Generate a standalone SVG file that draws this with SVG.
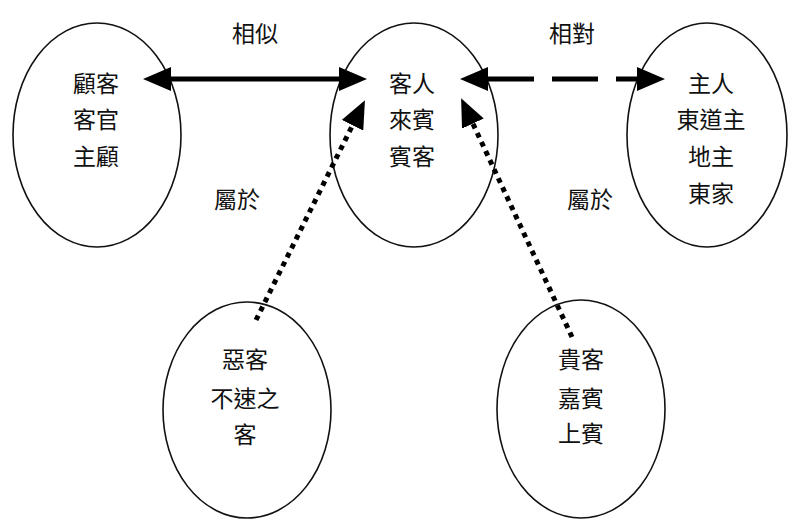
<svg xmlns="http://www.w3.org/2000/svg" width="790" height="519" viewBox="0 0 790 519">
  <style>
    .node ellipse { fill: #ffffff; stroke: #111111; stroke-width: 1.6; }
    text { font-family: "Noto Sans CJK TC", "Noto Sans CJK SC", sans-serif; font-size: 23px; fill: #111111; text-anchor: middle; dominant-baseline: central; }
    .conn line { stroke: #000000; stroke-width: 5; fill: none; }
    .dashed { stroke-dasharray: 46 18; }
    .dotted { stroke-dasharray: 5 5; stroke-width: 5; }
  </style>
  <defs>
    <marker id="head" viewBox="0 0 28 24" refX="0" refY="12" markerWidth="28" markerHeight="24" markerUnits="userSpaceOnUse" orient="auto-start-reverse">
      <path d="M0,0 L28,12 L0,24 Z" fill="#000000"/>
    </marker>
  </defs>
  <rect x="0" y="0" width="790" height="519" fill="#ffffff"/>

  <g id="guest" class="node">
    <ellipse cx="414" cy="135" rx="84" ry="112"/>
    <text x="412" y="82">客人</text>
    <text x="412" y="118">來賓</text>
    <text x="412" y="155">賓客</text>
  </g>
  <g id="customer" class="node">
    <ellipse cx="97" cy="135" rx="84" ry="112"/>
    <text x="96" y="82">顧客</text>
    <text x="96" y="118">客官</text>
    <text x="96" y="155">主顧</text>
  </g>
  <g id="host" class="node">
    <ellipse cx="707" cy="135" rx="80" ry="112"/>
    <text x="711" y="82">主人</text>
    <text x="711" y="118">東道主</text>
    <text x="711" y="155">地主</text>
    <text x="711" y="192">東家</text>
  </g>
  <g id="badguest" class="node">
    <ellipse cx="247" cy="410" rx="84" ry="108"/>
    <text x="245" y="358">惡客</text>
    <text x="245" y="397">不速之</text>
    <text x="245" y="433">客</text>
  </g>
  <g id="vip" class="node">
    <ellipse cx="581" cy="409" rx="84" ry="109"/>
    <text x="581" y="358">貴客</text>
    <text x="581" y="397">嘉賓</text>
    <text x="581" y="432">上賓</text>
  </g>

  <g id="labels">
    <text x="255" y="32">相似</text>
    <text x="572" y="32">相對</text>
    <text x="237" y="198">屬於</text>
    <text x="590" y="198">屬於</text>
  </g>

  <g id="connectors" class="conn">
    <line x1="171" y1="79" x2="339" y2="79" marker-start="url(#head)" marker-end="url(#head)"/>
    <line class="dashed" x1="488" y1="79" x2="637" y2="79" marker-start="url(#head)" marker-end="url(#head)"/>
    <line class="dotted" x1="256" y1="320" x2="352.5" y2="125.3" marker-end="url(#head)"/>
    <line class="dotted" x1="572" y1="337" x2="472.9" y2="123.6" marker-end="url(#head)"/>
  </g>
</svg>
